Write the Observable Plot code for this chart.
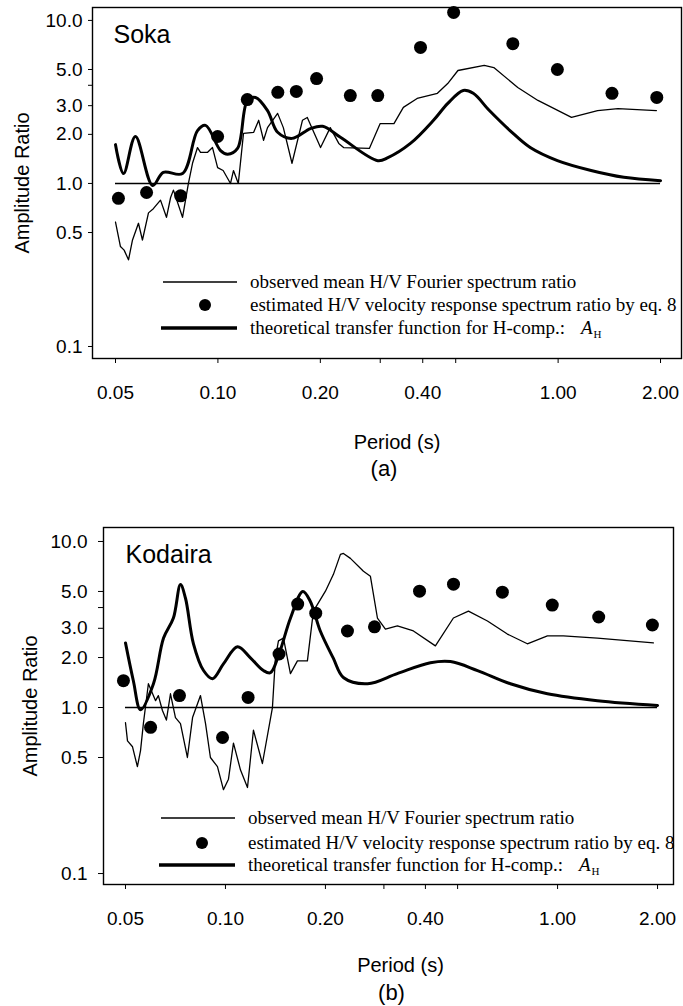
<!DOCTYPE html>
<html><head><meta charset="utf-8">
<script src="https://cdn.jsdelivr.net/npm/d3@7"></script>
<script src="https://cdn.jsdelivr.net/npm/@observablehq/plot@0.6"></script>
<style>
html,body{margin:0;padding:0;background:#fff;}
svg{display:block;overflow:visible;}
</style></head><body>
<div id="panelA"></div>
<div id="panelB"></div>
<script>
// ---------- tick values ----------
const xTickValues = [0.05, 0.1, 0.2, 0.3, 0.4, 0.5, 1, 2];
const xTickLabelled = [0.05, 0.1, 0.2, 0.4, 1, 2];
const yTickValues = [0.1, 0.5, 1, 2, 3, 4, 5, 10];
const yTickLabelled = [0.1, 0.5, 1, 2, 3, 5, 10];
const refLevel = 1;
const refRange = [0.05, 2.0];

const legendLabels = [
  "observed mean H/V Fourier spectrum ratio",
  "estimated H/V velocity response spectrum ratio by eq. 8",
  "theoretical transfer function for H-comp.:"
];

// ---------- (a) Soka ----------
const sokaObsP = [0.050,0.0517,0.0530,0.0546,0.0561,0.0584,0.0600,0.0625,0.0646,0.0678,0.0706,0.0726,0.0740,0.0787,0.0819,0.0842,0.0871,0.0889,0.0931,0.0964,0.0998,0.1036,0.1089,0.1111,0.1148,0.1189,0.1274,0.1318,0.1362,0.1399,0.1498,0.1557,0.1651,0.1772,0.1831,0.2003,0.2139,0.2266,0.2341,0.2787,0.2999,0.3292,0.3508,0.3851,0.4418,0.4736,0.5076,0.6066,0.6471,0.7610,0.8724,1.0946,1.3063,1.4992,1.945];
const sokaObsA = [0.58,0.41,0.39,0.34,0.45,0.57,0.45,0.66,0.70,0.79,0.62,0.82,0.91,0.62,1.00,1.33,1.66,1.55,1.55,1.66,1.25,1.20,1.00,1.20,1.00,2.03,2.06,2.44,1.84,2.20,2.69,2.20,1.33,2.44,2.54,1.66,2.20,1.76,1.66,1.64,2.33,2.33,2.93,3.32,3.57,4.10,4.93,5.30,5.14,3.88,3.23,2.54,2.80,2.88,2.80];
const sokaEstP = [0.051,0.0617,0.0777,0.0998,0.122,0.150,0.170,0.195,0.245,0.295,0.394,0.493,0.736,0.995,1.44,1.95];
const sokaEstA = [0.81,0.88,0.84,1.94,3.27,3.62,3.67,4.40,3.46,3.46,6.83,11.2,7.2,5.0,3.57,3.37];
const sokaTheoP = [0.050,0.0528,0.0572,0.0643,0.0691,0.0787,0.0871,0.0920,0.1018,0.1068,0.1142,0.1221,0.1290,0.1399,0.1498,0.1651,0.1871,0.2032,0.2291,0.2951,0.316,0.368,0.4302,0.474,0.5263,0.563,0.628,0.722,0.828,0.9953,1.25,1.56,2.0];
const sokaTheoA = [1.73,1.15,1.94,0.97,1.17,1.15,2.11,2.27,1.59,1.51,1.64,3.23,3.37,2.80,2.06,1.89,2.17,2.24,1.92,1.38,1.44,1.76,2.44,3.10,3.72,3.57,2.80,2.11,1.66,1.38,1.20,1.09,1.04];

// ---------- (b) Kodaira ----------
const kodObsP = [0.050,0.0507,0.0525,0.0543,0.0555,0.0566,0.0574,0.0586,0.0616,0.0628,0.0646,0.0664,0.0683,0.0707,0.0732,0.0768,0.0796,0.0841,0.0871,0.0901,0.0946,0.0986,0.1021,0.1057,0.1110,0.1165,0.1214,0.1292,0.1385,0.1414,0.1444,0.1495,0.1569,0.1647,0.1765,0.1840,0.2000,0.2114,0.2219,0.2266,0.2378,0.2603,0.2732,0.2868,0.3031,0.3294,0.3681,0.4287,0.4857,0.539,0.615,0.706,0.811,0.932,1.041,1.318,1.943];
const kodObsA = [0.81,0.63,0.58,0.44,0.55,0.80,1.00,1.39,1.10,1.18,0.96,0.84,1.21,0.87,0.80,0.50,0.87,1.18,0.80,0.50,0.44,0.32,0.37,0.61,0.42,0.33,0.73,0.46,1.00,1.99,2.52,2.62,1.60,1.91,1.91,3.81,5.02,6.34,8.36,8.47,7.91,6.61,6.17,3.46,2.97,3.10,2.89,2.35,3.46,3.81,3.32,2.77,2.42,2.70,2.70,2.62,2.45];
const kodEstP = [0.0493,0.0595,0.0727,0.098,0.117,0.145,0.165,0.187,0.233,0.281,0.384,0.486,0.682,0.964,1.33,1.93];
const kodEstA = [1.45,0.76,1.18,0.66,1.15,2.10,4.20,3.70,2.89,3.06,5.02,5.53,4.95,4.14,3.51,3.14];
const kodTheoP = [0.050,0.0528,0.0555,0.0607,0.0651,0.0697,0.0732,0.0758,0.0801,0.0859,0.0914,0.0986,0.1087,0.1189,0.1301,0.1366,0.145,0.157,0.171,0.180,0.193,0.211,0.227,0.268,0.329,0.414,0.476,0.574,0.721,0.932,1.318,2.0];
const kodTheoA = [2.45,1.45,0.97,1.39,2.62,3.46,5.50,4.55,2.42,1.67,1.49,1.83,2.32,1.99,1.67,1.62,2.10,3.46,5.00,4.37,2.89,1.99,1.51,1.39,1.60,1.86,1.89,1.67,1.39,1.21,1.10,1.03];

const zip = (P, A) => P.map((p, i) => ({p, a: A[i]}));
const fmtX = d => xTickLabelled.includes(d) ? d.toFixed(2) : "";
const fmtY = d => !yTickLabelled.includes(d) ? "" : (d >= 1 ? d.toFixed(1) : String(d));

const SANS = "'Liberation Sans', Arial, Helvetica, sans-serif";
const SERIF = "'Liberation Serif', 'Times New Roman', serif";

function panel(cfg) {
  const L = cfg.layout;
  const plot = Plot.plot({
    width: 683, height: L.height,
    marginLeft: L.ml, marginRight: L.mr, marginTop: L.mt, marginBottom: L.mb,
    x: {type: "log", domain: L.xd},
    y: {type: "log", domain: L.yd},
    style: {fontFamily: SANS, fontSize: "19px", color: "#000", background: "#fff"},
    marks: [
      Plot.frame({stroke: "#000", strokeWidth: 1.4}),
      Plot.axisX({ticks: xTickValues, tickFormat: fmtX, tickSize: 5, tickPadding: L.xpad, label: null, fontSize: 19}),
      Plot.axisY({ticks: yTickValues, tickFormat: fmtY, tickSize: L.ytick, tickPadding: L.ypad, label: null, fontSize: 19}),
      Plot.ruleY([refLevel], {x1: refRange[0], x2: refRange[1], stroke: "#000", strokeWidth: 1.5}),
      Plot.line(zip(cfg.obsP, cfg.obsA), {x: "p", y: "a", stroke: "#000", strokeWidth: 1.3}),
      Plot.line(zip(cfg.theoP, cfg.theoA), {x: "p", y: "a", stroke: "#000", strokeWidth: 3, curve: "catmull-rom"}),
      Plot.dot(zip(cfg.estP, cfg.estA), {x: "p", y: "a", r: 6.5, fill: "#000", stroke: "none"}),
      Plot.text([cfg.title], {text: d => d, frameAnchor: "top-left", dx: L.tdx, dy: L.tdy, fontSize: 25, textAnchor: "start", lineAnchor: "top"}),
      Plot.text(["Amplitude Ratio"], {text: d => d, frameAnchor: "left", rotate: -90, dx: L.ydx, fontSize: 20, textAnchor: "middle", lineAnchor: "middle"}),
      Plot.text(["Period (s)"], {text: d => d, frameAnchor: "bottom", dx: L.xldx, dy: L.xldy, fontSize: 20, lineAnchor: "middle"}),
      Plot.text([cfg.tag], {text: d => d, frameAnchor: "bottom", dx: L.tagdx, dy: L.tagdy, fontSize: 22, lineAnchor: "middle"})
    ]
  });
  // in-plot legend
  const svg = d3.select(plot);
  const g = svg.append("g")
    .attr("font-family", SERIF).attr("font-size", 19).attr("fill", "#000")
    .attr("text-anchor", "start");
  const rows = L.legendY;
  g.append("line").attr("x1", L.lx[0]).attr("x2", L.lx[1]).attr("y1", rows[0]).attr("y2", rows[0]).attr("stroke", "#000").attr("stroke-width", 1.5);
  g.append("circle").attr("cx", L.ldot).attr("cy", rows[1]).attr("r", 6).attr("fill", "#000");
  g.append("line").attr("x1", L.lx[0] - 2).attr("x2", L.lx[1]).attr("y1", rows[2]).attr("y2", rows[2]).attr("stroke", "#000").attr("stroke-width", 3.5);
  legendLabels.forEach((t, i) => {
    g.append("text").attr("text-anchor", "start").attr("x", L.ltx).attr("y", rows[i]).attr("dy", "0.32em").text(t);
  });
  const ah = g.append("text").attr("text-anchor", "start").attr("x", L.ltx + 331).attr("y", rows[2]).attr("dy", "0.32em");
  ah.append("tspan").attr("font-style", "italic").text("A");
  ah.append("tspan").attr("font-size", 11).attr("dy", 4).attr("dx", 1).text("H");
  document.getElementById(cfg.target).appendChild(plot);
}

panel({
  target: "panelA", title: "Soka", tag: "(a)",
  obsP: sokaObsP, obsA: sokaObsA, estP: sokaEstP, estA: sokaEstA, theoP: sokaTheoP, theoA: sokaTheoA,
  layout: {height: 500, ml: 92, mr: 2, mt: 7, mb: 142, xd: [0.04279, 2.305], yd: [0.0844, 12.0],
    xpad: 22, ytick: 4, ypad: 6, tdx: 21, tdy: 18, ydx: -70, xldx: 10, xldy: 84, tagdx: -3, tagdy: 110,
    legendY: [282, 305, 328], lx: [163, 237], ldot: 205, ltx: 250}
});
panel({
  target: "panelB", title: "Kodaira", tag: "(b)",
  obsP: kodObsP, obsA: kodObsA, estP: kodEstP, estA: kodEstA, theoP: kodTheoP, theoA: kodTheoA,
  layout: {height: 506, ml: 103, mr: 10, mt: 27, mb: 122, xd: [0.04293, 2.234], yd: [0.0859, 12.14],
    xpad: 22, ytick: 5, ypad: 11, tdx: 22, tdy: 18, ydx: -73, xldx: 12, xldy: 81, tagdx: 3, tagdy: 108,
    legendY: [318, 343, 365], lx: [161, 235], ldot: 202, ltx: 248}
});
</script>
</body></html>
